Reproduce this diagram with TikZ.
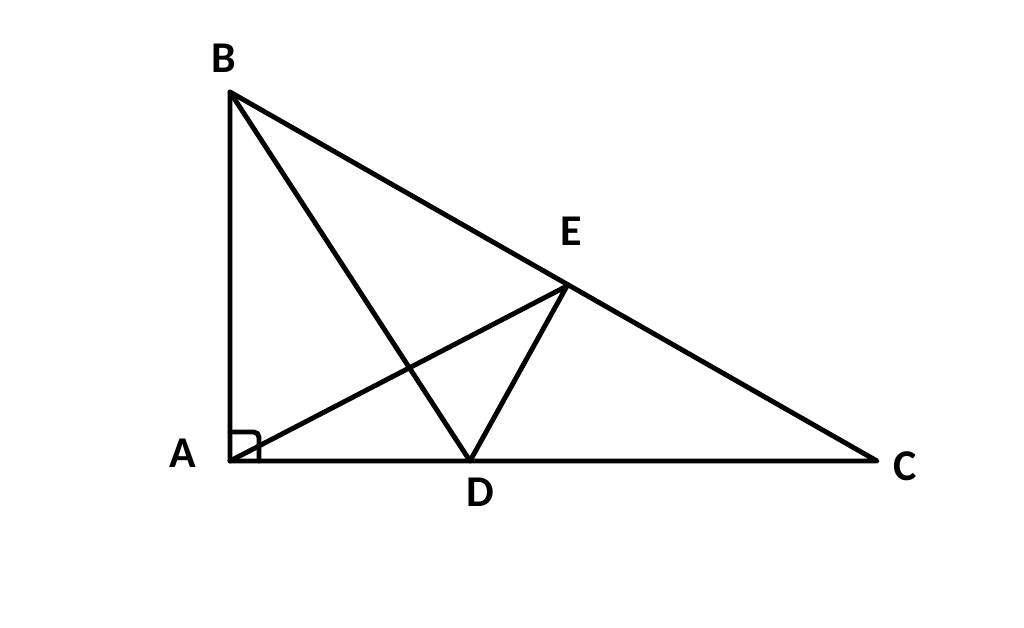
\documentclass[tikz,border=0pt]{standalone}
\usepackage{fontspec}
\setmainfont{Carlito}
\tikzset{
  edge/.style={line width=2.8pt, line join=round, line cap=round},
  lbl/.style={font=\fontsize{25}{25}\selectfont\bfseries, inner sep=0pt}
}
\begin{document}
\begin{tikzpicture}[x=0.02cm, y=-0.02cm]
\useasboundingbox (0, 0) rectangle (1024, 628);
\coordinate (A) at (230, 461);
\coordinate (B) at (230, 92);
\coordinate (C) at (877, 461);
\coordinate (D) at (470, 461);
\coordinate (E) at (567, 286);
\draw[edge] (A) -- (B) -- (C) -- cycle;
\draw[edge] (B) -- (D) -- (E) -- (A);
\draw[edge, rounded corners=3pt] (230, 432) -- (259, 432) -- (259, 461);
\node[lbl] (lA) at (183, 453) {A};
\node[lbl] (lB) at (224, 58) {B};
\node[lbl] (lC) at (905, 466) {C};
\node[lbl] (lD) at (480, 492) {D};
\node[lbl] (lE) at (571, 231) {E};
\end{tikzpicture}
\end{document}
